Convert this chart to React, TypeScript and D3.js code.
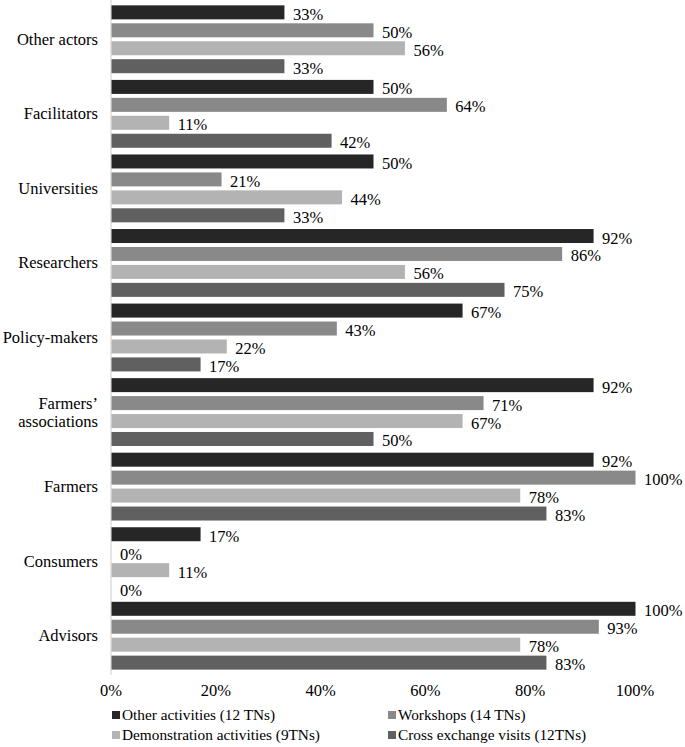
import { useEffect, useRef } from 'react'
import * as d3 from 'd3'

const categories = ['Other actors', 'Facilitators', 'Universities', 'Researchers', 'Policy-makers', "Farmers' associations", 'Farmers', 'Consumers', 'Advisors']
const seriesNames = ['Other activities (12 TNs)', 'Workshops (14 TNs)', 'Demonstration activities (9TNs)', 'Cross exchange visits (12TNs)']
const otherActivities = [33, 50, 50, 92, 67, 92, 92, 17, 100]
const workshops = [50, 64, 21, 86, 43, 71, 100, 0, 93]
const demonstration = [56, 11, 44, 56, 22, 67, 78, 11, 78]
const crossVisits = [33, 42, 33, 75, 17, 50, 83, 0, 83]
const ticks = [0, 20, 40, 60, 80, 100]
const colors = ['#262626', '#898989', '#b3b3b3', '#606060']

export default function App() {
  const ref = useRef<SVGSVGElement>(null)

  useEffect(() => {
    if (!ref.current) return
    const svg = d3.select(ref.current)
    svg.selectAll('*').remove()

    const font = '"Liberation Serif", "Times New Roman", Times, serif'
    const series = [otherActivities, workshops, demonstration, crossVisits]

    const x = d3.scaleLinear().domain([0, 100]).range([111, 635])
    const y = d3.scaleBand<string>().domain(categories).range([2, 673]).paddingInner(0.09).paddingOuter(0.045)
    const inner = d3.scaleBand<number>().domain([0, 1, 2, 3]).range([0, y.bandwidth()]).paddingInner(0.22)

    // axis line
    svg.append('line')
      .attr('x1', x(0)).attr('x2', x(0))
      .attr('y1', 0).attr('y2', 675)
      .attr('stroke', '#d9d9d9').attr('stroke-width', 1.3)

    const groups = svg.selectAll('.grp')
      .data(categories)
      .enter()
      .append('g')
      .attr('transform', d => `translate(0,${y(d)})`)

    series.forEach((vals, si) => {
      groups.append('rect')
        .attr('x', x(0) + 0.5)
        .attr('y', inner(si)!)
        .attr('width', (_d, i) => x(vals[i]) - x(0))
        .attr('height', inner.bandwidth())
        .attr('fill', colors[si])

      groups.append('text')
        .attr('x', (_d, i) => x(vals[i]) + 9)
        .attr('y', inner(si)! + inner.bandwidth() + 0.5)
        .attr('font-family', font)
        .attr('font-size', 16.5)
        .attr('fill', '#000')
        .text((_d, i) => `${vals[i]}%`)
    })

    // category labels
    groups.each(function (d) {
      const g = d3.select(this)
      const lines = d === "Farmers' associations" ? ['Farmers\u2019', 'associations'] : [d]
      const cy = y.bandwidth() / 2
      lines.forEach((ln, li) => {
        g.append('text')
          .attr('x', 98)
          .attr('y', cy + 5.5 + (li - (lines.length - 1) / 2) * 18)
          .attr('text-anchor', 'end')
          .attr('font-family', font)
          .attr('font-size', 16.5)
          .text(ln)
      })
    })

    // tick labels
    svg.selectAll('.tick')
      .data(ticks)
      .enter()
      .append('text')
      .attr('x', d => x(d))
      .attr('y', 696)
      .attr('text-anchor', 'middle')
      .attr('font-family', font)
      .attr('font-size', 16.5)
      .text(d => `${d}%`)

    // legend
    const legendPos = [[112, 720], [388, 720], [112, 740], [388, 740]]
    seriesNames.forEach((name, i) => {
      const [lx, ly] = legendPos[i]
      svg.append('rect')
        .attr('x', lx).attr('y', ly - 9)
        .attr('width', 8).attr('height', 8)
        .attr('fill', colors[i])
      svg.append('text')
        .attr('x', lx + 10).attr('y', ly)
        .attr('font-family', font)
        .attr('font-size', 15.3)
        .text(name)
    })
  }, [])

  return (
    <svg ref={ref} width={685} height={747} style={{ position: 'absolute', left: 0, top: 0, background: '#fff' }} />
  )
}
